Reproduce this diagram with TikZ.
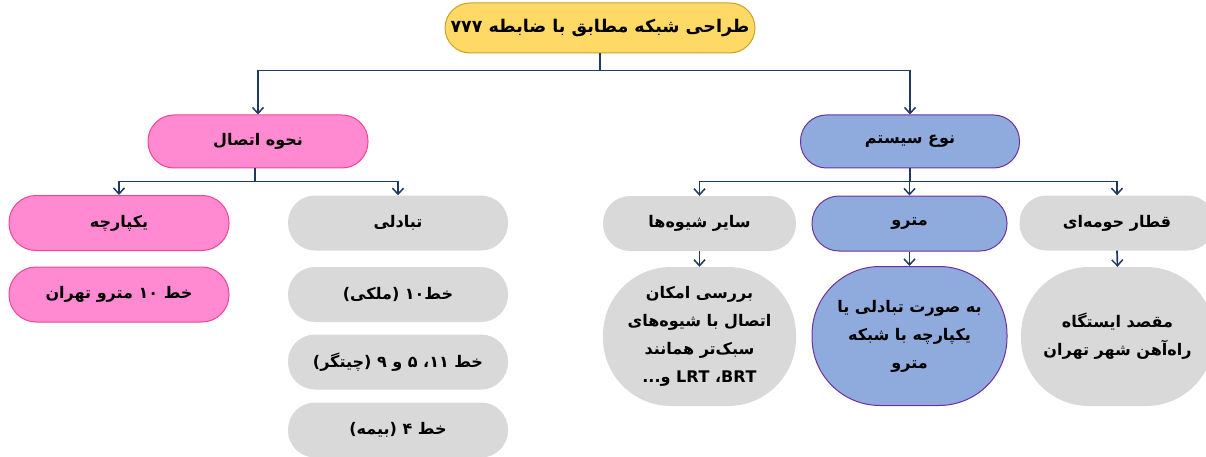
\documentclass[tikz,border=0pt]{standalone}
\usepackage{fontspec}
\usetikzlibrary{arrows.meta}
\TeXXeTstate=1
\newfontfamily\farsifont[Script=Arabic]{DejaVu Sans}
\newcommand\fa[1]{{\farsifont\bfseries\beginR #1\endR}}
\definecolor{navy}{HTML}{1F3864}
\definecolor{yfill}{HTML}{FFD966}
\definecolor{ydraw}{HTML}{C9A227}
\definecolor{pfill}{HTML}{FF8AD2}
\definecolor{pdraw}{HTML}{F04690}
\definecolor{gfill}{HTML}{D9D9D9}
\definecolor{bfill}{HTML}{8FAADC}
\definecolor{bdraw}{HTML}{7030A0}
\tikzset{
  pill/.style={rounded corners=27pt, minimum height=55pt, inner sep=0pt, font=\fontsize{16}{18}\selectfont},
  bigbox/.style={rounded corners=68pt, minimum height=139pt, minimum width=193pt, inner sep=0pt, align=center, font=\fontsize{16}{28}\selectfont},
  yel/.style={fill=yfill, draw=ydraw, line width=1pt},
  pnk/.style={fill=pfill, draw=pdraw, line width=1pt},
  gry/.style={fill=gfill},
  blu/.style={fill=bfill, draw=bdraw, line width=1pt},
  conn/.style={draw=navy, line width=1.7pt},
  arr/.style={conn, -{Straight Barb[length=6pt,width=11pt,line width=1.5pt]}},
}
\begin{document}
\begin{tikzpicture}[x=1pt,y=-1pt]
\useasboundingbox (0,0) rectangle (1206,457);
% top
\node[pill, yel, minimum width=310pt, minimum height=50pt, rounded corners=25pt, font=\fontsize{17.5}{20}\selectfont] (top) at (600,28) {\fa{طراحی شبکه مطابق با ضابطه ۷۷۷}};
% level 1
\node[pill, pnk, minimum width=220pt, minimum height=53pt, rounded corners=26pt] (con) at (258,141.5) {\fa{نحوه اتصال}};
\node[pill, blu, minimum width=219pt, minimum height=53pt, rounded corners=26pt] (sys) at (910,141.5) {\fa{نوع سیستم}};
% left level 2
\node[pill, pnk, minimum width=220pt] (integ) at (119,223) {\fa{یکپارچه}};
\node[pill, gry, minimum width=220pt] (inter) at (398,223) {\fa{تبادلی}};
\node[pill, pnk, minimum width=220pt] (intega) at (119,294.5) {\fa{خط ۱۰ مترو تهران}};
\node[pill, gry, minimum width=220pt] (intera) at (398,294.5) {\fa{خط۱۰ (ملکی)}};
\node[pill, gry, minimum width=220pt] (interb) at (398,362) {\fa{خط ۱۱، ۵ و ۹ (چیتگر)}};
\node[pill, gry, minimum width=220pt] (interc) at (398,430) {\fa{خط ۴ (بیمه)}};
% right level 2
\node[pill, gry, minimum width=193pt] (oth) at (699.5,223.5) {\fa{سایر شیوه‌ها}};
\node[pill, blu, minimum width=195pt] (met) at (909.5,223.5) {\fa{مترو}};
\node[pill, gry, minimum width=195pt] (sub) at (1117,223) {\fa{قطار حومه‌ای}};
% right level 3
\node[bigbox, gry] (othd) at (699.5,336.5) {\fa{بررسی امکان}\\\fa{اتصال با شیوه‌های}\\\fa{سبک‌تر همانند}\\\fa{\beginL BRT\endL، \beginL LRT\endL{} و...}};
\node[bigbox, blu, minimum width=195pt] (metd) at (909.5,336) {\fa{به صورت تبادلی یا}\\\fa{یکپارچه با شبکه}\\\fa{مترو}};
\node[bigbox, gry] (subd) at (1117.5,336.5) {\fa{مقصد ایستگاه}\\\fa{راه‌آهن شهر تهران}};
% connectors
\draw[conn] (top.south) -- ++(0,17) coordinate (j0);
\draw[arr] (j0) -| (con.north);
\draw[arr] (j0) -| (sys.north);
\draw[conn] ([xshift=-3pt]con.south) -- ++(0,13) coordinate (j1);
\draw[arr] (j1) -| (integ.north);
\draw[arr] (j1) -| (inter.north);
\draw[conn] (sys.south) -- ++(0,13) coordinate (j2);
\draw[arr] (j2) -| (oth.north);
\draw[arr] (j2) -| (met.north);
\draw[arr] (j2) -| (sub.north);
\draw[arr] (oth.south) -- (othd.north);
\draw[arr] (met.south) -- (metd.north);
\draw[arr] (sub.south) -- (subd.north);
\end{tikzpicture}
\end{document}
